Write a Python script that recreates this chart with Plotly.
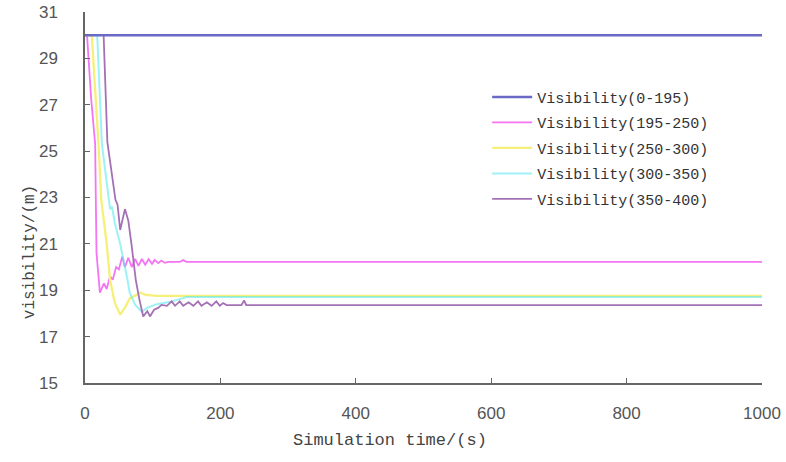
import plotly.graph_objects as go

# ---- data ----
t_a = [0, 1000]
v_a = [30.0, 30.0]

t_b = [0, 3, 9, 15, 16, 17, 22, 28, 32, 37, 41, 46, 50, 55, 59, 64, 69, 74, 79, 84, 89, 94,
       99, 103, 108, 113, 118, 123, 140, 145, 150, 1000]
v_b = [30.0, 30.0, 27.3, 25.3, 22.9, 20.6, 18.9, 19.3, 19.05, 19.6, 19.45, 20.0, 19.9, 20.45, 20.0,
       20.4, 20.0, 20.35, 20.05, 20.35, 20.1, 20.34, 20.14, 20.31, 20.17, 20.28, 20.18, 20.22,
       20.22, 20.3, 20.22, 20.22]

t_c = [0, 10, 20, 24, 32, 37, 44, 52, 59, 66, 76, 81, 90, 106, 1000]
v_c = [30.0, 30.0, 25.3, 22.9, 21.0, 19.45, 18.45, 17.95, 18.25, 18.65, 18.8, 18.9, 18.8, 18.76, 18.76]

t_d = [0, 18, 25, 35, 37, 40, 44, 52, 56, 62, 66, 74, 84, 91, 106, 126, 150, 1000]
v_d = [30.0, 30.0, 25.3, 22.9, 22.5, 22.6, 21.9, 21.0, 20.45, 19.57, 18.9, 18.38, 18.07, 18.23,
       18.4, 18.5, 18.71, 18.71]

t_e = [0, 27.5, 33, 45, 48, 52, 59, 64, 69, 75, 80, 86, 92, 96, 102, 108, 113, 121, 128, 133,
       140, 145, 153, 160, 167, 172, 180, 187, 194, 199, 204, 209, 231, 235, 238, 1000]
v_e = [30.0, 30.0, 25.4, 22.9, 22.7, 21.6, 22.5, 22.0, 20.9, 19.45, 18.65, 17.87, 18.1, 17.87,
       18.16, 18.24, 18.37, 18.33, 18.52, 18.33, 18.52, 18.33, 18.48, 18.33, 18.52, 18.33, 18.48,
       18.33, 18.52, 18.33, 18.45, 18.36, 18.36, 18.56, 18.36, 18.36]

names = ["Visibility(0-195)", "Visibility(195-250)", "Visibility(250-300)",
         "Visibility(300-350)", "Visibility(350-400)"]
colors = ["#6a6ac6", "#f474f4", "#f6f07a", "#5ee8f0", "#a472b4"]
widths = [2.5, 1.8, 2.3, 2.0, 1.8]
opac = [1, 1, 1, 0.6, 1]

series = [(t_a, v_a), (t_b, v_b), (t_c, v_c), (t_d, v_d), (t_e, v_e)]

fig = go.Figure()
order = [1, 2, 3, 4, 0]
for i in order:
    t, v = series[i]
    fig.add_trace(go.Scatter(x=t, y=v, mode="lines", name=names[i], legendgroup=names[i],
                             legendrank=i + 1, opacity=opac[i],
                             line=dict(color=colors[i], width=widths[i])))

axis_font = dict(family="Liberation Sans", size=17, color="#555")
fig.update_layout(
    width=786, height=462,
    margin=dict(l=85, r=24, t=12, b=79),
    paper_bgcolor="white", plot_bgcolor="white",
    showlegend=True,
    legend=dict(x=0.594, y=0.815, xanchor="left", yanchor="top",
                bgcolor="rgba(0,0,0,0)", borderwidth=0,
                font=dict(family="Liberation Mono", size=15, color="#333"),
                tracegroupgap=3, itemwidth=40),
    xaxis=dict(range=[0, 1000], tickvals=[0, 200, 400, 600, 800, 1000], automargin=False,
               showgrid=False, zeroline=False, showline=True, linecolor="#666", linewidth=1.5,
               ticks="inside", ticklen=5, tickcolor="#666", tickfont=axis_font,
               ticklabelstandoff=14),
    yaxis=dict(range=[15, 31], tickvals=[15, 17, 19, 21, 23, 25, 27, 29, 31], automargin=False,
               showgrid=False, zeroline=False, showline=True, linecolor="#666", linewidth=1.5,
               ticks="inside", ticklen=5, tickcolor="#666", tickfont=axis_font,
               ticklabelstandoff=22),
    annotations=[
        dict(text="Simulation time/(s)", xref="paper", yref="paper", x=0.45, y=-0.154,
             xanchor="center", yanchor="middle", showarrow=False,
             font=dict(family="Liberation Mono", size=17, color="#444")),
        dict(text="visibility/(m)", xref="paper", yref="paper", x=-0.081, y=0.353,
             xanchor="center", yanchor="middle", showarrow=False, textangle=-90,
             font=dict(family="Liberation Mono", size=16, color="#444")),
    ],
)

fig.write_html("out.html")
